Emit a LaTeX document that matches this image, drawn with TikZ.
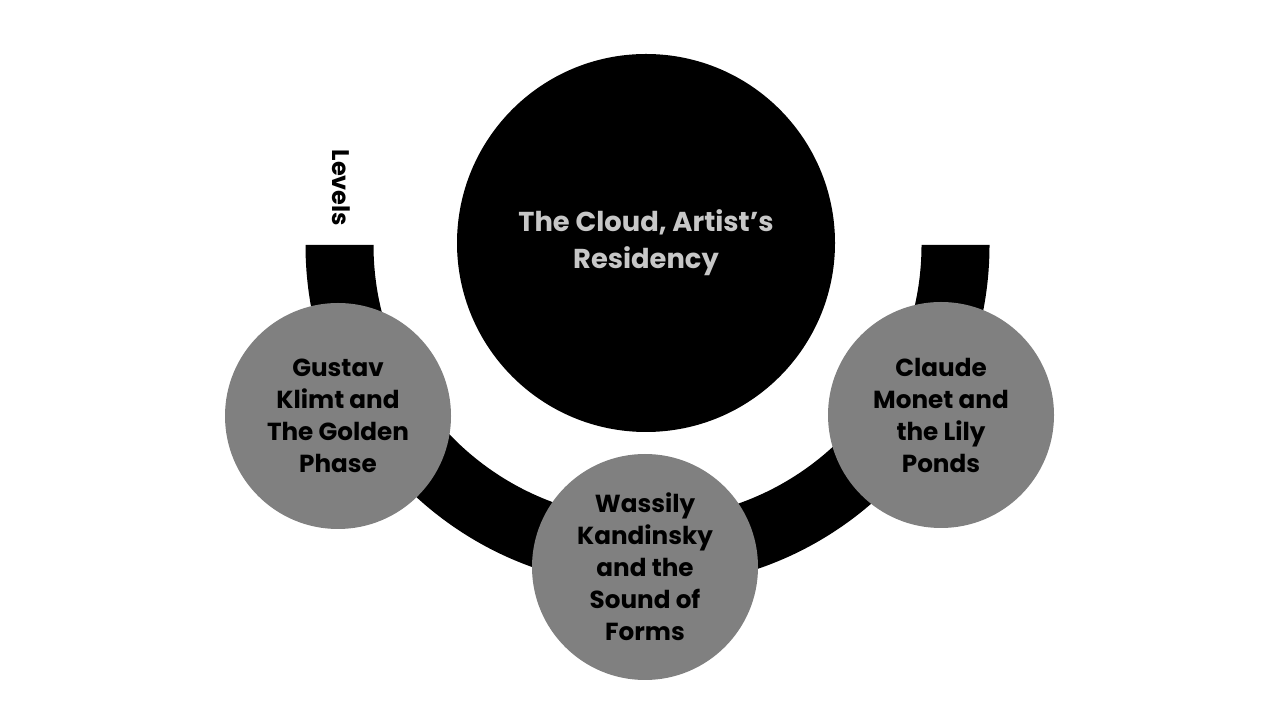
\documentclass[tikz,border=0pt]{standalone}
\usepackage{fontspec}
\setmainfont{Poppins}
\usepackage{tikz}
\definecolor{lightgrey}{gray}{0.78}
\definecolor{midgrey}{gray}{0.5}

\begin{document}
\begin{tikzpicture}[x=0.75pt,y=0.75pt,
    hub/.style={circle,fill=black,minimum size=283.5pt,inner sep=0pt,align=center,
        text=lightgrey,font=\bfseries\fontsize{20.5}{28}\selectfont},
    level/.style={circle,fill=midgrey,minimum size=169.5pt,inner sep=0pt,align=center,
        text=black,font=\bfseries\fontsize{18.5}{24}\selectfont}]
    \useasboundingbox (0,0) rectangle (1280,720);
    \fill[white] (0,0) rectangle (1280,720);

    % the band
    \fill[black] (305.5,475) arc[start angle=180,end angle=360,radius=342]
        -- (921.5,475) arc[start angle=360,end angle=180,radius=274] -- cycle;

    \node[hub] (cloud) at (646,477) {The Cloud, Artist's\\Residency};
    \node[level] (klimt) at (338,304) {Gustav\\Klimt and\\The Golden\\Phase};
    \node[level] (kandinsky) at (645,153) {Wassily\\Kandinsky\\and the\\Sound of\\Forms};
    \node[level] (monet) at (941,305) {Claude\\Monet and\\the Lily\\Ponds};
    \node[rotate=-90,font=\bfseries\fontsize{18}{20}\selectfont] (levels) at (341,532) {Levels};

\end{tikzpicture}
\end{document}
